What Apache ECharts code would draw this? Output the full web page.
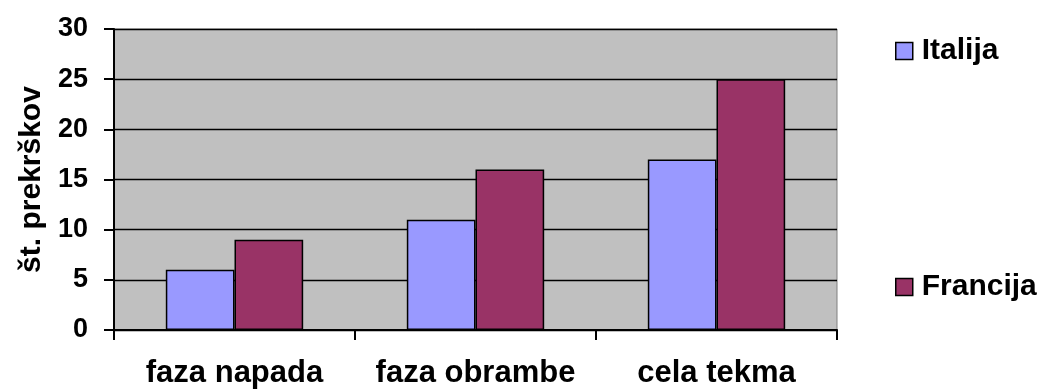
<!DOCTYPE html>
<html>
<head>
<meta charset="utf-8">
<script src="https://cdn.jsdelivr.net/npm/echarts@6/dist/echarts.min.js"></script>
<style>
html,body{margin:0;padding:0;background:#fff;}
#chart{width:1039px;height:390px;}
</style>
</head>
<body>
<div id="chart"></div>
<script>
var categories = ['faza napada', 'faza obrambe', 'cela tekma'];
var italija = [6, 11, 17];
var francija = [9, 16, 25];
var seriesNames = ['Italija', 'Francija'];
var yAxisTitle = 'št. prekrškov';
var yMin = 0, yMax = 30, yStep = 5;

var FONT = '"Liberation Sans", Arial, sans-serif';
var chart = echarts.init(document.getElementById('chart'), null, {renderer: 'canvas'});
chart.setOption({
  animation: false,
  backgroundColor: '#ffffff',
  grid: {
    left: 114, right: 202, top: 29, bottom: 60,
    outerBoundsMode: 'none', containLabel: false,
    show: true, backgroundColor: '#c0c0c0', borderColor: '#808080', borderWidth: 1
  },
  legend: [
    {
      data: [seriesNames[0]], orient: 'vertical', left: 895, top: 36, padding: 0,
      icon: 'rect', itemWidth: 17, itemHeight: 17,
      itemStyle: {borderColor: '#000', borderWidth: 1.5},
      textStyle: {fontFamily: FONT, fontWeight: 'bold', fontSize: 30, color: '#000', padding: [0, 0, 0, 4]}
    },
    {
      data: [seriesNames[1]], orient: 'vertical', left: 895, top: 272, padding: 0,
      icon: 'rect', itemWidth: 17, itemHeight: 17,
      itemStyle: {borderColor: '#000', borderWidth: 1.5},
      textStyle: {fontFamily: FONT, fontWeight: 'bold', fontSize: 30, color: '#000', padding: [0, 0, 0, 4]}
    }
  ],
  xAxis: {
    type: 'category',
    data: categories,
    axisLine: {lineStyle: {color: '#000', width: 2}},
    axisTick: {show: true, interval: 0, length: 10, lineStyle: {color: '#000', width: 2}},
    axisLabel: {interval: 0, margin: 28, fontFamily: FONT, fontWeight: 'bold', fontSize: 31, color: '#000'},
    splitLine: {show: false}
  },
  yAxis: {
    type: 'value',
    min: yMin, max: yMax, interval: yStep,
    name: yAxisTitle,
    nameLocation: 'middle',
    nameGap: 67,
    nameRotate: 90,
    nameTextStyle: {fontFamily: FONT, fontWeight: 'bold', fontSize: 30, color: '#000'},
    axisLine: {show: true, lineStyle: {color: '#000', width: 2}},
    axisTick: {show: true, length: 10, lineStyle: {color: '#000', width: 2}},
    axisLabel: {margin: 26, fontFamily: FONT, fontWeight: 'bold', fontSize: 27, color: '#000'},
    splitLine: {show: true, lineStyle: {color: '#000', width: 1.3}}
  },
  series: [
    {
      name: seriesNames[0], type: 'bar', data: italija,
      barGap: '0%', barCategoryGap: '43%',
      itemStyle: {color: '#9999ff', borderColor: '#000', borderWidth: 1.5}
    },
    {
      name: seriesNames[1], type: 'bar', data: francija,
      barGap: '0%', barCategoryGap: '43%',
      itemStyle: {color: '#993366', borderColor: '#000', borderWidth: 1.5}
    }
  ]
});
</script>
</body>
</html>
